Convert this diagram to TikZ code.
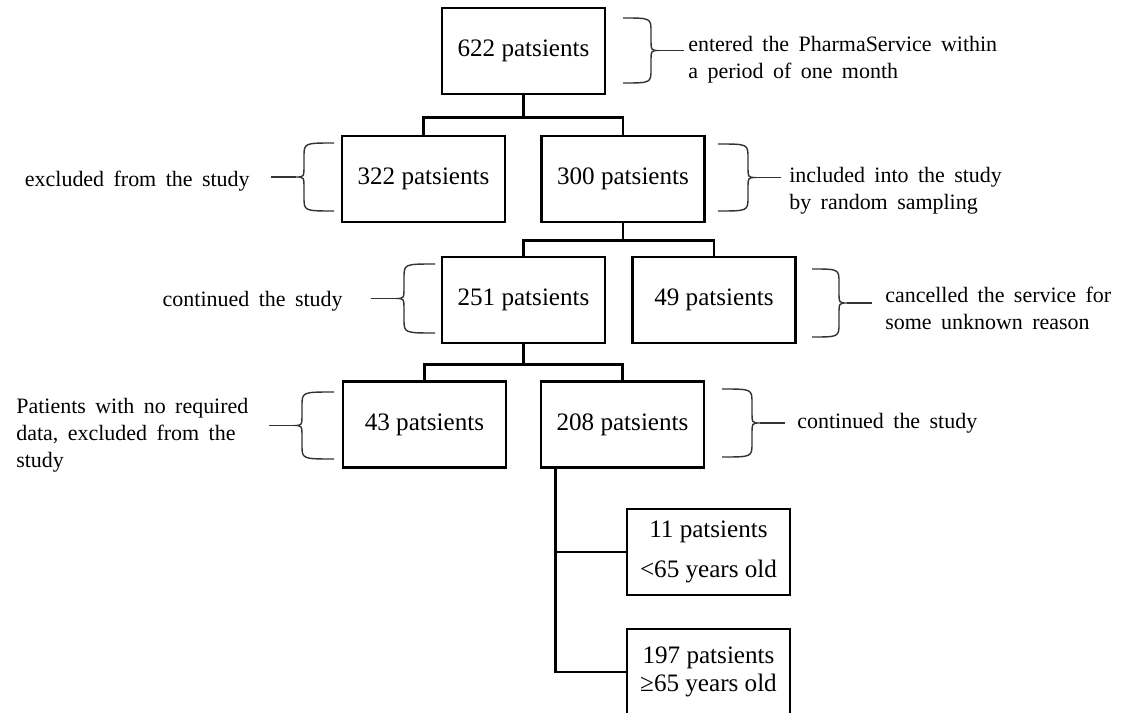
\documentclass[tikz,border=0pt]{standalone}
\usepackage{fontspec}
\setmainfont{Liberation Serif}
\usetikzlibrary{positioning,calc}
\tikzset{BOX/.style={rectangle,draw,line width=1.6pt,minimum width=3.26cm,minimum height=1.72cm,inner sep=0pt,align=center,font=\fontsize{14.3}{16}\selectfont}}
\tikzset{NOTE/.style={inner sep=0pt,font=\fontsize{12.5}{15.4}\selectfont,execute at begin node={\spaceskip=0.43em\relax}}}
\tikzset{LINE/.style={line width=1.5pt}}
\tikzset{BRACE/.style={line width=0.8pt,black!80}}

% #1 open end, #2 back, #3 top, #4 bottom, #5 side (1 right, -1 left)
\newcommand{\BRC}[5]{%
\draw[BRACE] (#1,#3) .. controls (#2,#3) .. (#2,#3+14) -- (#2,{(#3+#4)/2-12}) .. controls (#2,{(#3+#4)/2}) .. ({#2+(#5)*8},{(#3+#4)/2}) .. controls (#2,{(#3+#4)/2}) .. (#2,{(#3+#4)/2+12}) -- (#2,#4-14) .. controls (#2,#4) .. (#1,#4);
\draw[BRACE] ({#2+(#5)*8},{(#3+#4)/2}) -- ({#2+(#5)*33},{(#3+#4)/2});}

\begin{document}
\begin{tikzpicture}[x=0.02cm,y=-0.02cm]
\useasboundingbox (0,0) rectangle (1130,713);

\node[BOX] (n_622) at (523.5,51) {622 patsients};
\node[BOX] (n_322) at (423.5,179) {322 patsients};
\node[BOX] (n_300) at (623,179) {300 patsients};
\node[BOX] (n_251) at (523.5,300) {251 patsients};
\node[BOX] (n_49) at (714,300) {49 patsients};
\node[BOX] (n_43) at (424.5,424.5) {43 patsients};
\node[BOX] (n_208) at (622.5,424.5) {208 patsients};
\node[BOX] (n_11) at (708.5,552) {11 patsients\\[7pt]<65 years old};
\node[BOX] (n_197) at (708.5,672) {197 patsients\\≥65 years old};

\draw[LINE] (n_622.south) -- ++(0,22) coordinate (c_0) -| (n_322.north);
\draw[LINE] (c_0) -| (n_300.north);

\draw[LINE] (n_300.south) -- ++(0,17) coordinate (c_1) -| (n_251.north);
\draw[LINE] (c_1) -| (n_49.north);

\draw[LINE] (n_251.south) -- ++(0,20) coordinate (c_2) -| (n_43.north);
\draw[LINE] (c_2) -| (n_208.north);

\coordinate (c_3) at ([xshift=0.32cm]n_208.south west);
\draw[LINE] (c_3) |- (n_11.west);
\draw[LINE] (c_3) |- (n_197.west);

\node[NOTE,anchor=west,align=left] (n_note_622) at (688,60) {entered the PharmaService within\\a period of one month};
\node[NOTE,anchor=east] (n_note_322) at (250,181) {excluded from the study};
\node[NOTE,anchor=west,align=left] (n_note_300) at (789,191) {included into the study\\by random sampling};
\node[NOTE,anchor=east] (n_note_251) at (343,301) {continued the study};
\node[NOTE,anchor=west,align=left] (n_note_49) at (885,308) {cancelled the service for\\some unknown reason};
\node[NOTE,anchor=west,align=left] (n_note_43) at (16,435) {Patients with no required\\data, excluded from the\\study};
\node[NOTE,anchor=west] (n_note_208) at (797,423) {continued the study};

\BRC{623}{651}{18}{83}{1}
\BRC{718}{748}{144}{211}{1}
\BRC{812}{839}{269}{337}{1}
\BRC{722}{752}{389}{457}{1}
\BRC{334}{304}{143}{211}{-1}
\BRC{435}{404}{264}{333}{-1}
\BRC{334}{302}{392}{459}{-1}

\end{tikzpicture}
\end{document}
